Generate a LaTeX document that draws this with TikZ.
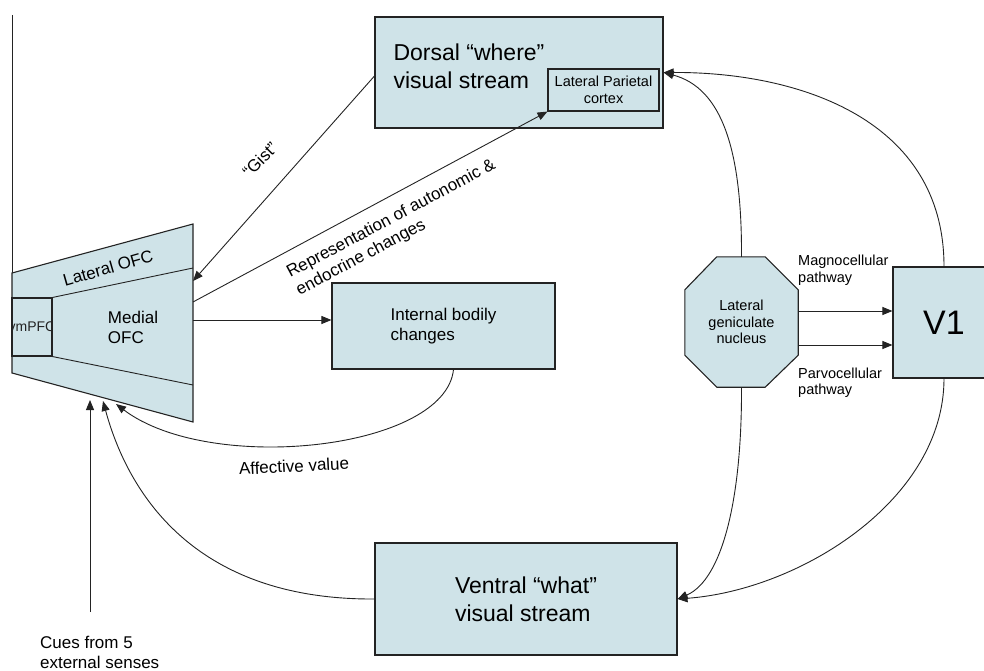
\documentclass[tikz,border=0pt]{standalone}
\usepackage{fontspec}
\setmainfont{Liberation Sans}
\usetikzlibrary{arrows.meta,calc}
\definecolor{boxfill}{RGB}{207,227,232}
\definecolor{ink}{RGB}{35,35,35}
\begin{document}
\begin{tikzpicture}[x=1pt,y=-1pt,
  box/.style={draw=ink,fill=boxfill,line width=1.1pt,inner sep=0pt},
  conn/.style={draw=ink,line width=0.9pt},
  arr/.style={conn,-{Triangle[length=10pt,width=8pt]}},
  big/.style={font=\fontsize{23}{28}\selectfont},
  mid/.style={font=\fontsize{17}{20}\selectfont},
  small/.style={font=\fontsize{14.5}{16.5}\selectfont},
  lbl/.style={inner sep=0pt,text=black}]
\useasboundingbox (0,0) rectangle (984,671);
\clip (0,0) rectangle (984,671);

% ---- orbitofrontal cortex (trapezoid with inner regions) ----
\coordinate (tl) at (12,273);
\coordinate (tr) at (193,224);
\coordinate (br) at (193,422);
\coordinate (bl) at (12,373);
\draw[conn] (12,15) -- (tl);
\filldraw[box] (tl) -- (tr) -- (br) -- (bl) -- cycle;
\node[box,minimum width=40pt,minimum height=58pt] (vm) at (32,327) {};
\draw[conn] (vm.north east) -- (193,268);
\draw[conn] (vm.south east) -- (193,385);
\begin{scope}
  \clip (vm.south west) rectangle (vm.north east);
  \node[lbl,font=\fontsize{14}{16}\selectfont,text=ink] (vmT) at (vm.center) {vmPFC};
\end{scope}
\node[lbl,mid,align=left] (medT) at (133,327) {Medial\\OFC};
\node[lbl,mid,rotate=16] (latT) at (108,268) {Lateral OFC};

% attachment points on the OFC outline
\coordinate (ofcGist) at (193,281);
\coordinate (ofcRep) at (193,302);
\coordinate (ofcInt) at (193,320);
\coordinate (ofcCue) at (90,400);
\coordinate (ofcVen) at (103,401);
\coordinate (ofcAff) at (116,404);

% ---- boxes ----
\node[box,minimum width=288pt,minimum height=111pt] (dorsal) at (519,72.5) {};
\node[lbl,big,align=left] (dorsalT) at (469,66) {Dorsal “where”\\visual stream};
\node[box,minimum width=111pt,minimum height=42pt,small,align=center] (lpc) at (603.5,90) {Lateral Parietal\\cortex};
\node[box,minimum width=223pt,minimum height=86pt,mid,align=left] (internal) at (443.5,326) {Internal bodily\\changes};
\node[box,minimum width=302pt,minimum height=112pt,big,align=left] (ventral) at (526,599) {Ventral “what”\\visual stream};
\node[box,minimum width=102pt,minimum height=111pt,font=\fontsize{34}{40}\selectfont] (v1) at (944,322.5) {V1};

% ---- lateral geniculate nucleus (octagon) ----
\node[minimum width=113pt,minimum height=130pt,inner sep=0pt] (lgn) at (741.5,322) {};
\filldraw[box] ($(lgn.north west)+(32,0)$) -- ($(lgn.north east)+(-33,0)$)
  -- ($(lgn.north east)+(0,33)$) -- ($(lgn.south east)+(0,-32)$)
  -- ($(lgn.south east)+(-33,0)$) -- ($(lgn.south west)+(32,0)$)
  -- ($(lgn.south west)+(0,-32)$) -- ($(lgn.north west)+(0,33)$) -- cycle;
\node[lbl,small,align=center] (lgnT) at (lgn.center) {Lateral\\geniculate\\nucleus};

% ---- connectors ----
\draw[arr] ([yshift=-3.5pt]dorsal.west) -- (ofcGist);
\draw[arr] (ofcRep) -- (lpc.south west);
\draw[arr] (ofcInt) -- (ofcInt -| internal.west);
\draw[arr] ([xshift=10pt]internal.south) .. controls (445,450) and (210,475) .. (ofcAff);
\draw[arr] (ventral.west) .. controls (200,600) and (130,500) .. (ofcVen);
\coordinate (cuesTop) at (90,612);
\draw[arr] (cuesTop) -- (ofcCue);

\coordinate (magS) at ([yshift=11pt]lgn.east);
\coordinate (parS) at ([yshift=-23pt]lgn.east);
\draw[arr] (magS) -- (magS -| v1.west);
\draw[arr] (parS) -- (parS -| v1.west);

\draw[arr] (lgn.north) .. controls (742,150) and (722,88) .. (dorsal.east);
\draw[arr] (v1.north) .. controls (944,120) and (800,72) .. (dorsal.east);
\draw[arr] (lgn.south) .. controls (742,500) and (722,580) .. (ventral.east);
\draw[arr] (v1.south) .. controls (944,500) and (800,590) .. (ventral.east);

% ---- labels ----
\node[lbl,mid,rotate=45] (gistT) at (260,160) {“Gist”};
\node[lbl,mid,rotate=28,align=left] (repT) at (396,228) {Representation of autonomic \&\\endocrine changes};
\node[lbl,mid,rotate=3] (affT) at (294,466) {Affective value};
\node[lbl,mid,align=left,anchor=north west] (cues) at (40,636) {Cues from 5\\external senses};
\node[lbl,small,align=left,anchor=west] (magT) at (798,270) {Magnocellular\\pathway};
\node[lbl,small,align=left,anchor=west] (parT) at (798,382.5) {Parvocellular\\pathway};
\end{tikzpicture}
\end{document}
